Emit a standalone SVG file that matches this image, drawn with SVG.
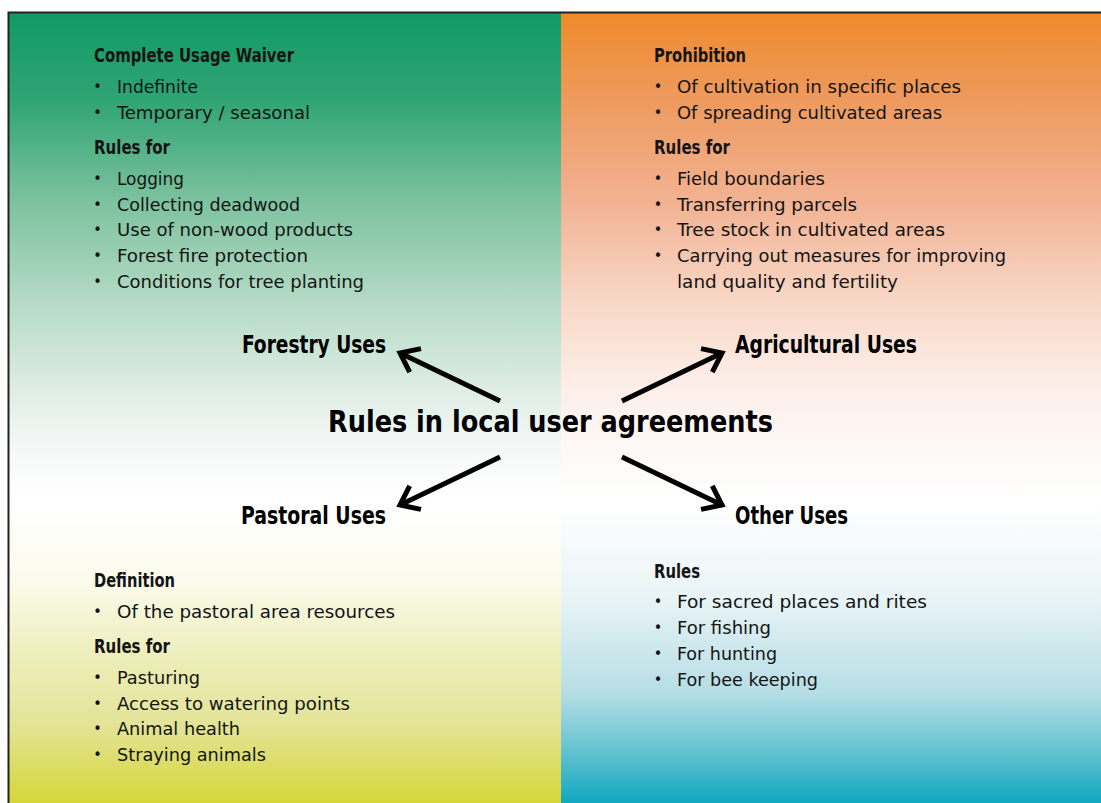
<svg xmlns="http://www.w3.org/2000/svg" width="1101" height="803" viewBox="0 0 1101 803">
<defs>
<linearGradient id="gl" gradientUnits="userSpaceOnUse" x1="0" y1="12" x2="0" y2="803">
<stop offset="0" stop-color="#0f9a66"/>
<stop offset="0.11" stop-color="#2fa473"/>
<stop offset="0.24" stop-color="#7dc29f"/>
<stop offset="0.36" stop-color="#b2d9c3"/>
<stop offset="0.49" stop-color="#e3efe9"/>
<stop offset="0.56" stop-color="#f7f9f8"/>
<stop offset="0.62" stop-color="#ffffff"/>
<stop offset="0.72" stop-color="#fbfbec"/>
<stop offset="0.81" stop-color="#eeefbd"/>
<stop offset="0.9" stop-color="#e3e497"/>
<stop offset="1" stop-color="#d6d63a"/>
</linearGradient>
<linearGradient id="gr" gradientUnits="userSpaceOnUse" x1="0" y1="12" x2="0" y2="803">
<stop offset="0" stop-color="#ef8a2a"/>
<stop offset="0.11" stop-color="#ee9a5e"/>
<stop offset="0.24" stop-color="#f2b292"/>
<stop offset="0.36" stop-color="#f8d6c5"/>
<stop offset="0.46" stop-color="#fcece5"/>
<stop offset="0.55" stop-color="#fdf8f6"/>
<stop offset="0.62" stop-color="#ffffff"/>
<stop offset="0.74" stop-color="#e9f4f6"/>
<stop offset="0.86" stop-color="#b6dee5"/>
<stop offset="0.94" stop-color="#5dc0cf"/>
<stop offset="1" stop-color="#10a8c0"/>
</linearGradient>
<marker id="ah" markerUnits="userSpaceOnUse" markerWidth="40" markerHeight="40" refX="0" refY="0" viewBox="-25 -20 30 40" orient="auto" overflow="visible">
<path d="M -17 -13 L 0 0 L -17 13" fill="none" stroke="#000" stroke-width="5" stroke-linejoin="miter"/>
</marker>
<style>
text{font-family:"DejaVu Sans Condensed","DejaVu Sans",sans-serif;fill:#141414;}
.h{font-size:19px;font-weight:bold;}
.b{font-size:18px;}
.d{font-size:16px;}
.c{font-size:24px;font-weight:bold;fill:#000;}
.t{font-size:30px;font-weight:bold;fill:#000;}
.arr{stroke:#000;stroke-width:5;fill:none;marker-end:url(#ah);}
</style>
</defs>
<rect x="0" y="0" width="1101" height="803" fill="#ffffff"/>
<g id="background">
<rect x="9" y="13" width="552" height="790" fill="url(#gl)"/>
<rect x="561" y="13" width="540" height="790" fill="url(#gr)"/>
<path d="M 8.5 803 L 8.5 12.5 L 1101 12.5" fill="none" stroke="#222" stroke-width="2"/>
</g>
<g id="forestry-list">
<text class="h" x="94" y="62" textLength="200" lengthAdjust="spacingAndGlyphs">Complete Usage Waiver</text>
<text class="d" x="97.5" y="92" text-anchor="middle">•</text>
<text class="b" x="117" y="93" textLength="81" lengthAdjust="spacingAndGlyphs">Indefinite</text>
<text class="d" x="97.5" y="118" text-anchor="middle">•</text>
<text class="b" x="117" y="119" textLength="193" lengthAdjust="spacingAndGlyphs">Temporary / seasonal</text>
<text class="h" x="94" y="154" textLength="76" lengthAdjust="spacingAndGlyphs">Rules for</text>
<text class="d" x="97.5" y="184" text-anchor="middle">•</text>
<text class="b" x="117" y="185" textLength="67" lengthAdjust="spacingAndGlyphs">Logging</text>
<text class="d" x="97.5" y="210" text-anchor="middle">•</text>
<text class="b" x="117" y="211" textLength="183" lengthAdjust="spacingAndGlyphs">Collecting deadwood</text>
<text class="d" x="97.5" y="235" text-anchor="middle">•</text>
<text class="b" x="117" y="236" textLength="236" lengthAdjust="spacingAndGlyphs">Use of non-wood products</text>
<text class="d" x="97.5" y="261" text-anchor="middle">•</text>
<text class="b" x="117" y="262" textLength="191" lengthAdjust="spacingAndGlyphs">Forest fire protection</text>
<text class="d" x="97.5" y="287" text-anchor="middle">•</text>
<text class="b" x="117" y="288" textLength="247" lengthAdjust="spacingAndGlyphs">Conditions for tree planting</text>
</g>
<g id="agricultural-list">
<text class="h" x="654" y="62" textLength="92" lengthAdjust="spacingAndGlyphs">Prohibition</text>
<text class="d" x="658" y="92" text-anchor="middle">•</text>
<text class="b" x="677" y="93" textLength="284" lengthAdjust="spacingAndGlyphs">Of cultivation in specific places</text>
<text class="d" x="658" y="118" text-anchor="middle">•</text>
<text class="b" x="677" y="119" textLength="265" lengthAdjust="spacingAndGlyphs">Of spreading cultivated areas</text>
<text class="h" x="654" y="154" textLength="76" lengthAdjust="spacingAndGlyphs">Rules for</text>
<text class="d" x="658" y="184" text-anchor="middle">•</text>
<text class="b" x="677" y="185" textLength="148" lengthAdjust="spacingAndGlyphs">Field boundaries</text>
<text class="d" x="658" y="210" text-anchor="middle">•</text>
<text class="b" x="677" y="211" textLength="180" lengthAdjust="spacingAndGlyphs">Transferring parcels</text>
<text class="d" x="658" y="235" text-anchor="middle">•</text>
<text class="b" x="677" y="236" textLength="268" lengthAdjust="spacingAndGlyphs">Tree stock in cultivated areas</text>
<text class="d" x="658" y="261" text-anchor="middle">•</text>
<text class="b" x="677" y="262" textLength="329" lengthAdjust="spacingAndGlyphs">Carrying out measures for improving</text>
<text class="b" x="677" y="288" textLength="221" lengthAdjust="spacingAndGlyphs">land quality and fertility</text>
</g>
<g id="pastoral-list">
<text class="h" x="94" y="587" textLength="81" lengthAdjust="spacingAndGlyphs">Definition</text>
<text class="d" x="97.5" y="617" text-anchor="middle">•</text>
<text class="b" x="117" y="618" textLength="278" lengthAdjust="spacingAndGlyphs">Of the pastoral area resources</text>
<text class="h" x="94" y="653" textLength="76" lengthAdjust="spacingAndGlyphs">Rules for</text>
<text class="d" x="97.5" y="683" text-anchor="middle">•</text>
<text class="b" x="117" y="684" textLength="83" lengthAdjust="spacingAndGlyphs">Pasturing</text>
<text class="d" x="97.5" y="709" text-anchor="middle">•</text>
<text class="b" x="117" y="710" textLength="233" lengthAdjust="spacingAndGlyphs">Access to watering points</text>
<text class="d" x="97.5" y="734" text-anchor="middle">•</text>
<text class="b" x="117" y="735" textLength="123" lengthAdjust="spacingAndGlyphs">Animal health</text>
<text class="d" x="97.5" y="760" text-anchor="middle">•</text>
<text class="b" x="117" y="761" textLength="149" lengthAdjust="spacingAndGlyphs">Straying animals</text>
</g>
<g id="other-list">
<text class="h" x="654" y="578" textLength="46" lengthAdjust="spacingAndGlyphs">Rules</text>
<text class="d" x="658" y="607" text-anchor="middle">•</text>
<text class="b" x="677" y="608" textLength="250" lengthAdjust="spacingAndGlyphs">For sacred places and rites</text>
<text class="d" x="658" y="633" text-anchor="middle">•</text>
<text class="b" x="677" y="634" textLength="94" lengthAdjust="spacingAndGlyphs">For fishing</text>
<text class="d" x="658" y="659" text-anchor="middle">•</text>
<text class="b" x="677" y="660" textLength="100" lengthAdjust="spacingAndGlyphs">For hunting</text>
<text class="d" x="658" y="685" text-anchor="middle">•</text>
<text class="b" x="677" y="686" textLength="141" lengthAdjust="spacingAndGlyphs">For bee keeping</text>
</g>
<g id="center">
<text class="t" x="328" y="432" textLength="445" lengthAdjust="spacingAndGlyphs">Rules in local user agreements</text>
</g>
<g id="forestry">
<text class="c" x="242" y="353" textLength="144" lengthAdjust="spacingAndGlyphs">Forestry Uses</text>
</g>
<g id="agricultural">
<text class="c" x="735" y="353" textLength="182" lengthAdjust="spacingAndGlyphs">Agricultural Uses</text>
</g>
<g id="pastoral">
<text class="c" x="241" y="524" textLength="145" lengthAdjust="spacingAndGlyphs">Pastoral Uses</text>
</g>
<g id="other">
<text class="c" x="735" y="524" textLength="113" lengthAdjust="spacingAndGlyphs">Other Uses</text>
</g>
<g id="connectors">
<line class="arr" x1="500" y1="401" x2="400" y2="353"/>
<line class="arr" x1="622" y1="401" x2="722" y2="353"/>
<line class="arr" x1="500" y1="457" x2="400" y2="505"/>
<line class="arr" x1="622" y1="457" x2="722" y2="505"/>
</g>
</svg>
